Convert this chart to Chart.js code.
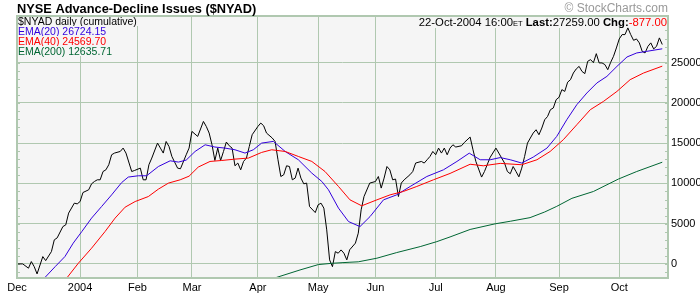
<!DOCTYPE html>
<html>
<head>
<meta charset="utf-8">
<script src="https://cdn.jsdelivr.net/npm/chart.js@4.4.1/dist/chart.umd.min.js"></script>
<style>
  html, body { margin: 0; padding: 0; background: #fff; }
</style>
</head>
<body>
<canvas id="adChart" width="700" height="294"></canvas>
<script>
// trading-day index 0 = 1-Dec-2003
const MONTH_DAYS = [0, 22, 42, 61, 84, 105, 125, 146, 167, 189, 210];
const MONTH_LABELS = ['Dec', '2004', 'Feb', 'Mar', 'Apr', 'May', 'Jun', 'Jul', 'Aug', 'Sep', 'Oct'];
const Y_TICKS = [0, 5000, 10000, 15000, 20000, 25000];

const AD_DAYS = [0, 2, 4, 5, 6, 7, 9, 10, 12, 13, 14, 16, 17, 18, 20, 21, 22, 23, 25, 26, 27, 28, 29, 30, 31, 32, 33, 34, 36, 37, 38, 40, 41, 43, 44, 45, 46, 47, 49, 50, 51, 52, 53, 54, 56, 57, 59, 60, 61, 63, 64, 65, 66, 67, 68, 69, 70, 71, 72, 73, 74, 75, 76, 77, 78, 79, 80, 81, 82, 84, 85, 86, 87, 89, 90, 91, 92, 93, 94, 95, 96, 97, 98, 99, 100, 101, 102, 104, 105, 106, 107, 108, 109, 110, 111, 112, 113, 114, 115, 116, 118, 119, 120, 121, 123, 125, 126, 127, 128, 129, 130, 131, 132, 133, 134, 135, 137, 138, 139, 141, 142, 143, 144, 145, 146, 147, 148, 149, 150, 151, 152, 153, 155, 156, 158, 159, 160, 162, 163, 165, 167, 168, 170, 171, 172, 173, 174, 175, 176, 177, 178, 179, 180, 181, 182, 183, 184, 185, 186, 187, 188, 189, 190, 191, 192, 193, 194, 195, 196, 197, 198, 199, 200, 201, 202, 203, 204, 205, 206, 207, 208, 209, 210, 211, 212, 213, 214, 215, 216, 217, 218, 219, 220, 221, 222, 223, 224, 225];
const AD_VALUES = [0, 0, -530, 290, -340, -1240, 910, 410, 1530, 2990, 3230, 4640, 4850, 6310, 7550, 7460, 7750, 8870, 9210, 9950, 10240, 10450, 10450, 11480, 11690, 12320, 13560, 13770, 13970, 14390, 13770, 11480, 11610, 11900, 10450, 10450, 12320, 13150, 15010, 14390, 13770, 15210, 14590, 13350, 11900, 11820, 13560, 14390, 16460, 15840, 16760, 17700, 17080, 16260, 14800, 12850, 14390, 12850, 13970, 15140, 14680, 14390, 12190, 12530, 11690, 12730, 13150, 14590, 16050, 17080, 17500, 17170, 16260, 15640, 15210, 12940, 10860, 11070, 12190, 12100, 10450, 10660, 11900, 10660, 9950, 10040, 7130, 6380, 7340, 7550, 6930, 4230, 500, -340, 1530, 1330, 1740, 1330, 500, 1750, 2580, 3820, 6720, 8370, 10040, 10240, 10860, 9420, 10660, 12100, 11690, 10450, 10540, 8370, 10040, 10450, 11070, 11480, 12530, 12730, 12530, 12940, 13350, 13970, 13560, 14390, 13770, 14390, 13560, 14390, 14800, 14520, 14680, 15090, 15760, 14180, 12730, 10790, 11480, 13250, 14390, 13770, 12530, 11480, 11200, 12100, 11480, 10820, 11900, 13350, 15010, 15640, 16260, 16670, 16050, 16880, 17910, 18320, 19160, 19370, 20400, 20700, 21650, 21430, 22580, 22890, 23720, 24220, 24540, 23920, 23640, 25170, 25380, 25000, 26120, 24970, 24970, 24760, 24130, 25040, 25790, 26830, 27950, 28490, 28490, 29320, 28490, 27780, 27950, 27460, 26410, 26210, 27030, 27460, 26710, 27030, 28080, 27259];

const EMA20_DAYS = [9.5, 13.3, 16.7, 19.6, 22.6, 26, 29.5, 33, 36.5, 38.8, 42.3, 45.2, 49.3, 53.4, 56.3, 59, 62.1, 65.6, 69, 72.5, 76, 79.5, 82.4, 85.3, 89.4, 93.5, 98.1, 102.8, 106.3, 108.6, 112.1, 115.6, 119.6, 123.1, 127.8, 132.4, 137.1, 142.9, 148.7, 153.4, 157.7, 161.5, 165, 168.5, 172, 176, 180, 184.8, 188.2, 191.7, 195.2, 198.7, 202.2, 205.7, 209.2, 212.7, 216.1, 219.6, 225];
const EMA20_VALUES = [-1780, -340, 910, 2580, 4020, 5690, 7130, 8580, 10110, 10790, 10950, 10950, 12100, 12810, 12650, 12900, 13970, 14800, 14520, 14390, 14180, 13770, 14180, 15010, 15220, 13970, 12940, 11280, 10240, 9210, 6930, 5260, 4640, 5880, 7960, 8580, 9620, 10860, 11690, 12730, 13760, 12940, 12940, 13210, 12940, 12530, 13270, 14390, 15840, 17910, 19780, 21230, 22480, 23300, 24540, 25710, 26210, 26410, 26724.15];

const EMA40_DAYS = [17.3, 21.4, 26, 30.7, 34.2, 37.7, 41.2, 45.8, 49.3, 52.8, 56.9, 60, 63.2, 67.3, 71.4, 76, 80.7, 85.3, 88.8, 93.5, 98.1, 102.8, 107.4, 112.1, 116.1, 120.2, 125.5, 130.1, 134.7, 139.4, 145.2, 151, 158, 162.6, 168.5, 176, 181.3, 185.9, 190.5, 195.2, 199.9, 204.5, 209.2, 213.8, 218.5, 225];
const EMA40_VALUES = [-1780, 90, 1950, 4020, 5690, 7050, 7750, 8370, 9290, 10040, 10450, 10900, 12030, 12730, 12850, 13020, 13150, 13850, 14180, 13970, 13350, 12730, 11480, 9620, 7960, 7220, 7960, 8580, 9000, 9620, 10450, 11240, 12380, 12190, 12490, 12320, 12940, 13970, 15430, 17290, 19160, 20190, 21430, 22890, 23720, 24569.7];

const EMA200_DAYS = [89.6, 98.7, 105.1, 110.3, 116.1, 119, 125.5, 132.4, 140.6, 146.4, 151, 158, 166.7, 172, 178.9, 184, 188.2, 193.5, 201, 209.7, 216.1, 225];
const EMA200_VALUES = [-1780, -750, -80, 90, 210, 260, 710, 1410, 2150, 2770, 3350, 4280, 4980, 5300, 5750, 6450, 7150, 8150, 9000, 10540, 11480, 12635.71];

const PLOT_BG = '#f5f5f5';
const GRID = '#b0c8b0';
const FONT = 'Liberation Sans, Arial, sans-serif';
const BLUE = '#3300dd';
const RED = '#ff0000';
const GREEN = '#006633';

const pts = (days, vals) => days.map((d, i) => ({ x: d, y: vals[i] }));

const decorations = {
  id: 'decorations',
  beforeDraw(chart) {
    const { ctx, chartArea: a } = chart;
    ctx.save();
    ctx.fillStyle = PLOT_BG;
    ctx.fillRect(a.left, a.top, a.right - a.left, a.bottom - a.top);
    ctx.restore();
  },
  beforeDatasetsDraw(chart) {
    const { ctx, chartArea: a } = chart;
    const y = chart.scales.y;
    ctx.save();
    // small ticks every 1000 on both sides
    ctx.strokeStyle = GRID;
    ctx.lineWidth = 1;
    for (let v = -1000; v <= 30000; v += 1000) {
      const py = Math.round(y.getPixelForValue(v)) + 0.5;
      ctx.beginPath();
      ctx.moveTo(a.left, py); ctx.lineTo(a.left + 3, py);
      ctx.moveTo(a.right - 3, py); ctx.lineTo(a.right, py);
      ctx.stroke();
    }
    // legend block, top left
    const rows = [
      ['$NYAD daily (cumulative)', '#000'],
      ['EMA(20) 26724.15', BLUE],
      ['EMA(40) 24569.70', RED],
      ['EMA(200) 12635.71', GREEN],
    ];
    ctx.font = '10.5px ' + FONT;
    ctx.textBaseline = 'middle';
    rows.forEach(([txt, col], i) => {
      const w = ctx.measureText(txt).width;
      ctx.fillStyle = PLOT_BG;
      ctx.fillRect(a.left, a.top + i * 10, w + 4, 10);
      ctx.fillStyle = col;
      ctx.fillText(txt, a.left + 1, a.top + 6 + i * 10);
    });
    // date / last / change line, top right
    const parts = [
      ['22-Oct-2004 16:00', '11.3px ' + FONT, '#000'],
      ['ET', '7.5px ' + FONT, '#000'],
      [' Last:', 'bold 11.3px ' + FONT, '#000'],
      ['27259.00', '11.3px ' + FONT, '#000'],
      [' Chg:', 'bold 11.3px ' + FONT, '#000'],
      ['-877.00', '11.3px ' + FONT, RED],
    ];
    let total = 0;
    parts.forEach(p => { ctx.font = p[1]; p.push(ctx.measureText(p[0]).width); total += p[3]; });
    let x = a.right - 1 - total;
    ctx.fillStyle = PLOT_BG;
    ctx.fillRect(x - 2, a.top, total + 2, 12);
    ctx.textBaseline = 'alphabetic';
    parts.forEach(p => {
      ctx.font = p[1];
      ctx.fillStyle = p[2];
      ctx.fillText(p[0], x, a.top + 10);
      x += p[3];
    });
    ctx.restore();
  },
  afterDraw(chart) {
    const { ctx, chartArea: a } = chart;
    ctx.save();
    ctx.strokeStyle = GRID;
    ctx.lineWidth = 2;
    ctx.strokeRect(a.left, a.top, a.right - a.left, a.bottom - a.top);
    ctx.fillStyle = '#000';
    ctx.font = 'bold 12.8px ' + FONT;
    ctx.textBaseline = 'alphabetic';
    ctx.fillText('NYSE Advance-Decline Issues ($NYAD)', 17, 13);
    ctx.fillStyle = '#999';
    ctx.font = '12px ' + FONT;
    ctx.textAlign = 'right';
    ctx.fillText('\u00A9 StockCharts.com', a.right, 12);
    ctx.restore();
  }
};

const tickFont = { family: FONT, size: 11 };

new Chart(document.getElementById('adChart'), {
  type: 'line',
  data: {
    datasets: [
      { label: 'EMA(200)', data: pts(EMA200_DAYS, EMA200_VALUES), borderColor: GREEN },
      { label: 'EMA(40)', data: pts(EMA40_DAYS, EMA40_VALUES), borderColor: RED },
      { label: 'EMA(20)', data: pts(EMA20_DAYS, EMA20_VALUES), borderColor: BLUE },
      { label: '$NYAD', data: pts(AD_DAYS, AD_VALUES), borderColor: '#000' },
    ],
  },
  options: {
    responsive: false,
    animation: false,
    devicePixelRatio: 1,
    layout: { padding: { left: 17, top: 16, right: 0, bottom: 0 } },
    plugins: { legend: { display: false }, tooltip: { enabled: false } },
    elements: { point: { radius: 0 }, line: { borderWidth: 1, tension: 0 } },
    scales: {
      x: {
        type: 'linear', min: 0, max: 227,
        afterBuildTicks: (s) => { s.ticks = MONTH_DAYS.map((v) => ({ value: v })); },
        afterFit: (s) => { s.height = 16; },
        ticks: { callback: (v) => MONTH_LABELS[MONTH_DAYS.indexOf(v)], font: tickFont, color: '#000', maxRotation: 0, autoSkip: false, padding: 3 },
        grid: { color: GRID, drawTicks: false },
        border: { display: false },
      },
      y: {
        position: 'right', min: -1750, max: 30800,
        afterBuildTicks: (s) => { s.ticks = Y_TICKS.map((v) => ({ value: v })); },
        afterFit: (s) => { s.width = 32; },
        ticks: { callback: (v) => String(v), font: tickFont, color: '#000', padding: 3 },
        grid: { color: GRID, drawTicks: false },
        border: { display: false },
      },
    },
  },
  plugins: [decorations],
});
</script>
</body>
</html>
